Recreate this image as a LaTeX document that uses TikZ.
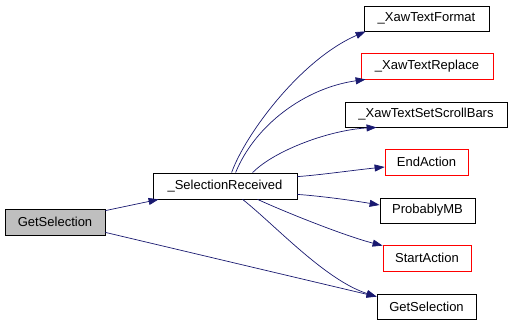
\documentclass[tikz,border=0pt]{standalone}
\usepackage{fontspec}
\setmainfont{Liberation Sans}
\usetikzlibrary{arrows.meta,calc}
\definecolor{edgeblue}{HTML}{191970}
\definecolor{boxgray}{HTML}{BFBFBF}
\begin{document}
\begin{tikzpicture}[x=1pt,y=-1pt,
  fn/.style={draw=black,line width=0.8pt,inner sep=0pt,font=\fontsize{13}{15}\selectfont},
  redfn/.style={fn,draw=red},
  edge/.style={draw=edgeblue,line width=0.7pt,-{Triangle[length=10pt,width=7pt]}}]
\useasboundingbox (0,0) rectangle (514,322);
\node[fn,fill=boxgray,minimum width=100pt,minimum height=26pt] (gl) at (55,222) {GetSelection};
\node[fn,minimum width=144pt,minimum height=26pt] (sr) at (225,186) {\_SelectionReceived};
\node[fn,minimum width=125pt,minimum height=25pt] (xtf) at (426.5,18.5) {\_XawTextFormat};
\node[redfn,minimum width=132pt,minimum height=26pt] (xtr) at (427,66) {\_XawTextReplace};
\node[fn,minimum width=162pt,minimum height=25pt] (xts) at (426,114.5) {\_XawTextSetScrollBars};
\node[redfn,minimum width=83pt,minimum height=26pt] (ea) at (426.5,162) {EndAction};
\node[fn,minimum width=95pt,minimum height=25pt] (pmb) at (427.5,210.5) {ProbablyMB};
\node[redfn,minimum width=88pt,minimum height=26pt] (sa) at (427,258) {StartAction};
\node[fn,minimum width=99pt,minimum height=25pt] (gr) at (426.5,306.5) {GetSelection};
\draw[edge] ($(gl.north east)+(0,2)$) -- ($(sr.south west)+(6,0)$);
\draw[edge] ($(gl.south east)+(0,-3)$) -- ($(gr.north west)+(0,3)$);
\draw[edge] ($(sr.north west)+(79,0)$) .. controls (245,135) and (300,60) .. ($(xtf.south west)+(2,0)$);
\draw[edge] ($(sr.north west)+(83,0)$) .. controls (255,125) and (305,88) .. ($(xtr.south west)+(5,0)$);
\draw[edge] ($(sr.north west)+(100,0)$) .. controls (275,150) and (330,130) .. ($(xts.south west)+(32,0)$);
\draw[edge] ($(sr.north east)+(0,4)$) .. controls (320,175) and (355,170) .. ($(ea.west)+(0,5)$);
\draw[edge] ($(sr.south east)+(0,-5)$) .. controls (320,196) and (350,200) .. ($(pmb.west)+(0,-5.5)$);
\draw[edge] ($(sr.south west)+(105,0)$) .. controls (285,212) and (345,236) .. ($(sa.north west)+(0,1)$);
\draw[edge] ($(sr.south west)+(90,0)$) .. controls (275,225) and (325,280) .. ($(gr.north west)+(0,3)$);
\end{tikzpicture}
\end{document}
